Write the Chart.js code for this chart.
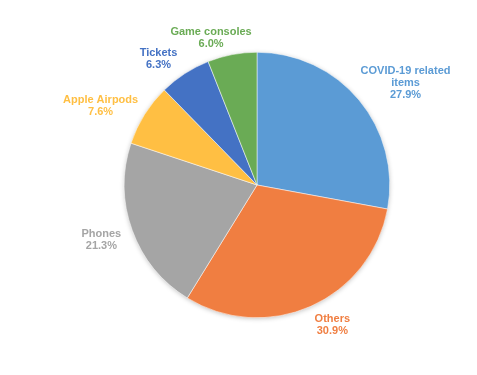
<!DOCTYPE html>
<html>
<head>
<meta charset="utf-8">
<script src="https://cdn.jsdelivr.net/npm/chart.js@4"></script>
<style>
html,body{margin:0;padding:0;background:#fff;}
#wrap{width:477px;height:375px;position:relative;}
</style>
</head>
<body>
<div id="wrap"><canvas id="c"></canvas></div>
<script>
const categories = ["COVID-19 related items", "Others", "Phones", "Apple Airpods", "Tickets", "Game consoles"];
const labelLines = [["COVID-19 related", "items"], ["Others"], ["Phones"], ["Apple Airpods"], ["Tickets"], ["Game consoles"]];
const shares = [27.9, 30.9, 21.3, 7.6, 6.3, 6.0];
const colors = ["#5B9BD5", "#F07E41", "#A5A5A5", "#FFBF43", "#4472C4", "#6AAB55"];

const FONT = 'bold 11px "Liberation Sans", Arial, sans-serif';

const shadowPlugin = {
  id: 'pieShadow',
  beforeDatasetsDraw(chart) {
    const arc = chart.getDatasetMeta(0).data[0];
    if (!arc) return;
    const ctx = chart.ctx;
    ctx.save();
    ctx.shadowColor = 'rgba(0,0,0,0.28)';
    ctx.shadowBlur = 5;
    ctx.shadowOffsetY = 1;
    ctx.fillStyle = '#ffffff';
    ctx.beginPath();
    ctx.arc(arc.x, arc.y, arc.outerRadius - 0.5, 0, Math.PI * 2);
    ctx.fill();
    ctx.restore();
  }
};

const labelPlugin = {
  id: 'outsideLabels',
  afterDatasetsDraw(chart, args, opts) {
    const ctx = chart.ctx;
    const meta = chart.getDatasetMeta(0);
    const nudges = opts.nudges || [];
    ctx.save();
    ctx.font = FONT;
    ctx.textAlign = 'center';
    ctx.textBaseline = 'middle';
    const lineH = 12;
    meta.data.forEach((arc, i) => {
      const mid = (arc.startAngle + arc.endAngle) / 2;
      const dx = Math.cos(mid), dy = Math.sin(mid);
      const lines = labelLines[i].concat([shares[i].toFixed(1) + '%']);
      let w = 0;
      lines.forEach(l => { w = Math.max(w, ctx.measureText(l).width); });
      const h = lines.length * lineH;
      const r = arc.outerRadius + 13;
      const n = nudges[i] || [0, 0];
      const cx = arc.x + dx * r + dx * w / 2 + n[0];
      const cy = arc.y + dy * r + dy * h / 2 + n[1];
      ctx.fillStyle = colors[i];
      lines.forEach((l, k) => {
        ctx.fillText(l, cx, cy - h / 2 + lineH / 2 + k * lineH);
      });
    });
    ctx.restore();
  }
};

new Chart(document.getElementById('c'), {
  type: 'pie',
  data: {
    labels: categories,
    datasets: [{
      data: shares,
      backgroundColor: colors,
      borderColor: '#ffffff',
      borderWidth: 0.5
    }]
  },
  options: {
    responsive: true,
    maintainAspectRatio: false,
    animation: false,
    layout: { padding: { left: 124, right: 87, top: 52, bottom: 57 } },
    plugins: {
      legend: { display: false },
      tooltip: { enabled: false },
      outsideLabels: { nudges: [[2, 3], [9, -4], [0, 1], [-1, 5], [-9, 6], [-11, 8]] }
    }
  },
  plugins: [shadowPlugin, labelPlugin]
});
</script>
</body>
</html>
